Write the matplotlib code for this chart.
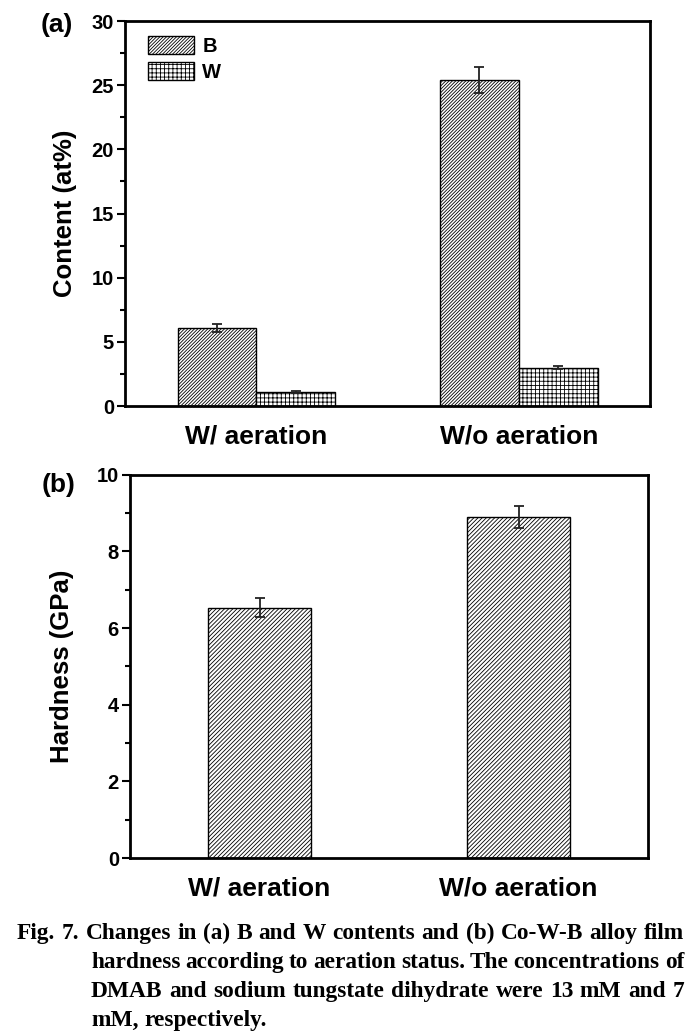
import numpy as np
import matplotlib
matplotlib.use('Agg')
from matplotlib import pyplot as plt
from matplotlib.ticker import MultipleLocator

plt.rcParams['font.family'] = ['Liberation Sans', 'DejaVu Sans']
plt.rcParams['font.weight'] = 'bold'
plt.rcParams['hatch.linewidth'] = 0.6

# data
groups = ['W/ aeration', 'W/o aeration']
b_content = [6.1, 25.4]
b_err = [0.3, 1.0]
w_content = [1.1, 3.0]
w_err = [0.05, 0.08]
hardness = [6.53, 8.9]
hardness_err = [0.25, 0.28]

caption_lines = [
    "Fig. 7. Changes in (a) B and W contents and (b) Co-W-B alloy film",
    "hardness according to aeration status. The concentrations of",
    "DMAB and sodium tungstate dihydrate were 13 mM and 7",
    "mM, respectively.",
]

W, H = 696, 1035
fig = plt.figure(figsize=(W / 100, H / 100), dpi=100)
ax1 = fig.add_axes([125 / W, 1 - 406 / H, 525 / W, 385 / H])
ax2 = fig.add_axes([130 / W, 1 - 858 / H, 518 / W, 383.3 / H])

x = np.arange(1, len(groups) + 1)
ekw = dict(ecolor='#222222', elinewidth=1.3, capsize=3.5, capthick=1.3)

ax1.bar(x - 0.15, b_content, 0.30, yerr=b_err, color='white', edgecolor='black',
        linewidth=1.0, hatch='//////////', label='B', error_kw=ekw)
ax1.bar(x + 0.15, w_content, 0.30, yerr=w_err, color='white', edgecolor='black',
        linewidth=1.0, hatch='++++', label='W', error_kw=ekw)
ax1.set_ylim(0, 30)
ax1.yaxis.set_major_locator(MultipleLocator(5))
ax1.yaxis.set_minor_locator(MultipleLocator(2.5))
ax1.set_ylabel('Content (at%)', fontsize=18.5, fontweight='bold', labelpad=10)
ax1.legend(loc='upper left', bbox_to_anchor=(0.044, 0.962), frameon=False,
           fontsize=14.5, handlelength=2.3, handleheight=1.0, handletextpad=0.4,
           labelspacing=0.32, borderpad=0, borderaxespad=0)

ax2.bar(x, hardness, 0.40, yerr=hardness_err, color='white', edgecolor='black',
        linewidth=1.0, hatch='////////', error_kw=ekw)
ax2.set_ylim(0, 10)
ax2.yaxis.set_major_locator(MultipleLocator(2))
ax2.yaxis.set_minor_locator(MultipleLocator(1))
ax2.set_ylabel('Hardness (GPa)', fontsize=18.5, fontweight='bold', labelpad=16)

for ax in (ax1, ax2):
    ax.set_xlim(0.5, 2.5)
    ax.set_xticks(x)
    ax.set_xticklabels(groups, fontsize=19, fontweight='bold')
    ax.tick_params(axis='x', length=0, pad=13)
    ax.tick_params(axis='y', which='major', direction='out', length=6, width=1.5,
                   labelsize=14.5, pad=2)
    ax.tick_params(axis='y', which='minor', direction='out', length=3.5, width=1.5)
    for s in ax.spines.values():
        s.set_linewidth(2.0)

fig.text(57 / W, 1 - 25 / H, '(a)', fontsize=19, fontweight='bold', ha='center', va='center')
fig.text(59 / W, 1 - 485 / H, '(b)', fontsize=19, fontweight='bold', ha='center', va='center')

# caption, justified like the journal layout
cap_kw = dict(family=['Liberation Serif', 'DejaVu Serif'], fontweight='bold', fontsize=16.8,
              va='baseline')
base_y = [939, 968, 997, 1026]
starts = [17, 91, 91, 91]
x_right = 684
renderer = fig.canvas.get_renderer()
for i, line in enumerate(caption_lines):
    words = line.split(' ')
    y = 1 - base_y[i] / H
    texts = [fig.text(0, y, w, **cap_kw) for w in words]
    widths = [t.get_window_extent(renderer).width for t in texts]
    if i < len(caption_lines) - 1:
        gap = (x_right - starts[i] - sum(widths)) / (len(words) - 1)
    else:
        gap = 16.8 * 0.25 * 100 / 72
    pos = starts[i]
    for t, wd in zip(texts, widths):
        t.set_x(pos / W)
        pos += wd + gap

fig.savefig('out.png', dpi=100)
